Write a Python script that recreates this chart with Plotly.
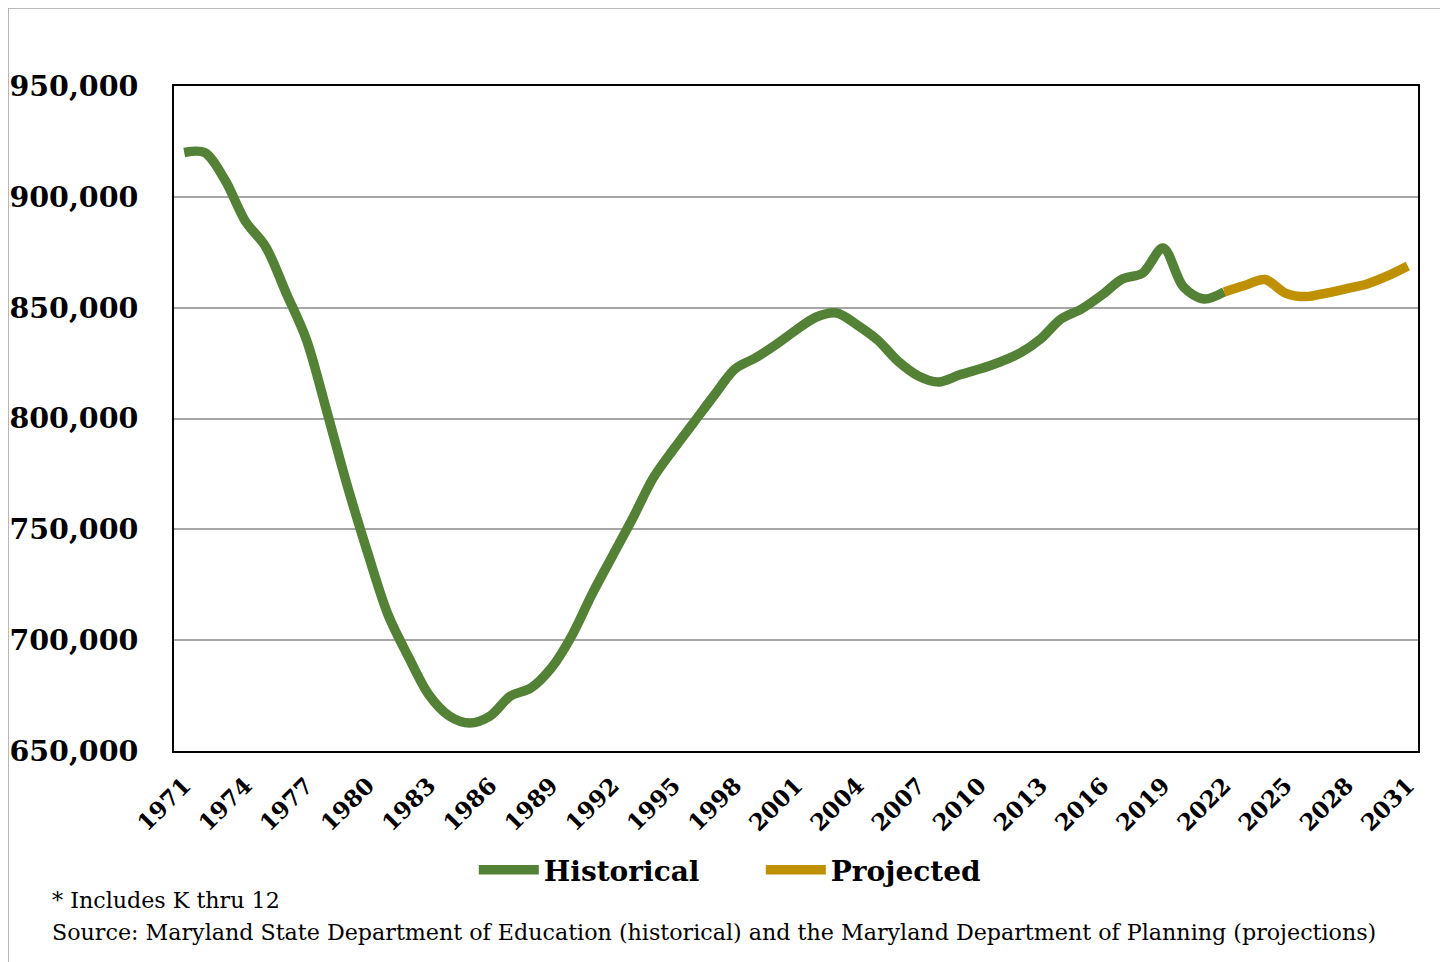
import plotly.graph_objects as go

# Maryland public school enrollment (K-12)
hist_years = list(range(1971, 2023))
hist_values = [
    920000, 920000, 907600, 889000, 877400, 856600, 835400, 803000, 769600, 739300,
    711400, 692400, 675300, 665800, 662600, 665800, 674800, 678400, 687400, 701900,
    720800, 738000, 755100, 773200, 786200, 798400, 810600, 822300, 827300, 833200,
    839900, 845800, 847600, 842200, 835400, 825900, 819200, 816500, 819600, 822300,
    825500, 829600, 835900, 844900, 849400, 855700, 862900, 865600, 876900, 859300,
    853900, 857100,
]
proj_years = list(range(2022, 2032))
proj_values = [857100, 860000, 862700, 856600, 855000, 856600, 858600, 860700, 864300, 868800]

tick_years = list(range(1971, 2032, 3))
y_ticks = [650000, 700000, 750000, 800000, 850000, 900000, 950000]

serif = "DejaVu Serif"

fig = go.Figure()
fig.add_trace(go.Scatter(x=hist_years, y=hist_values, name="Historical", mode="lines",
                         line=dict(color="#538135", width=9.5, shape="spline", smoothing=0.9)))
fig.add_trace(go.Scatter(x=proj_years, y=proj_values, name="Projected", mode="lines",
                         line=dict(color="#BF9000", width=9.5, shape="spline", smoothing=0.9)))

# the page body adds an 8px margin, so the figure is a bit smaller than the window
fig.update_layout(
    width=1440, height=954,
    margin=dict(l=166, r=30, t=78, b=211),
    paper_bgcolor="white", plot_bgcolor="white",
    font=dict(family=serif, color="black"),
    showlegend=True,
    legend=dict(orientation="h", x=0.241, xanchor="left", y=-0.179, yanchor="middle",
                font=dict(size=28, family=serif, weight="bold"),
                entrywidth=212, itemwidth=60),
    xaxis=dict(range=[1970.5, 2031.5], tickmode="array", tickvals=tick_years,
               ticktext=[str(y) for y in tick_years], tickangle=-45,
               tickfont=dict(size=23, family=serif, weight="bold"),
               showgrid=False, zeroline=False, showline=True, linecolor="black",
               linewidth=2, mirror=True, ticks="", ticklabelstandoff=10,
               automargin=False),
    yaxis=dict(range=[650000, 950000], tickvals=y_ticks,
               ticktext=[f"{v:,}" for v in y_ticks],
               tickfont=dict(size=28.5, family=serif, weight="bold"),
               showgrid=True, gridcolor="#A6A6A6", gridwidth=1.5, zeroline=False,
               showline=True, linecolor="black", linewidth=2, mirror=True,
               ticks="", ticklabelstandoff=28, automargin=False),
)

# outer frame
fig.add_shape(type="rect", xref="paper", yref="paper", x0=-0.1334, x1=1.0185,
              y0=-0.5, y1=1.1173, line=dict(color="#A6A6A6", width=1.5), layer="below")

fig.add_annotation(text="* Includes K thru 12", xref="paper", yref="paper",
                   x=-0.1, y=-0.224, xanchor="left", yanchor="middle", showarrow=False,
                   font=dict(size=22.2, family=serif))
fig.add_annotation(text="Source: Maryland State Department of Education (historical) and the Maryland Department of Planning (projections)",
                   xref="paper", yref="paper", x=-0.1, y=-0.272, xanchor="left",
                   yanchor="middle", showarrow=False, font=dict(size=22.2, family=serif))

fig.write_html("out.html")
